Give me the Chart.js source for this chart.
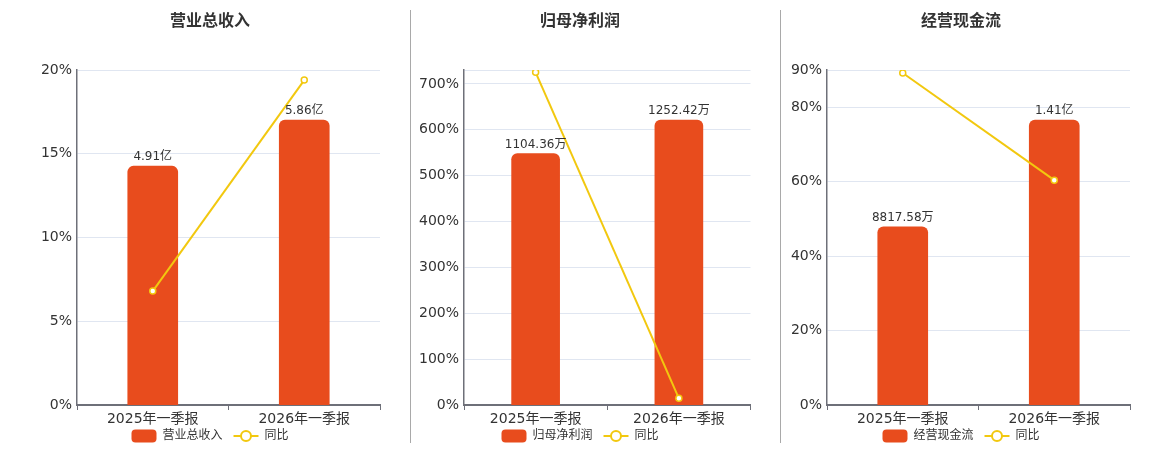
<!DOCTYPE html>
<html>
<head>
<meta charset="utf-8">
<script src="https://cdn.jsdelivr.net/npm/chart.js@4.4.0/dist/chart.umd.min.js"></script>
<style>
  html, body { margin: 0; padding: 0; background: #fff; }
  body { width: 1160px; height: 450px; position: relative; overflow: hidden; }
  .panel { position: absolute; top: 0; height: 450px; }
  .sep { position: absolute; top: 10px; width: 1px; height: 433px; background: #a9a9a9; }
</style>
</head>
<body>
<div class="panel" style="left:20px;width:380px"><canvas id="c1"></canvas></div>
<div class="sep" style="left:410px"></div>
<div class="panel" style="left:410px;width:346px"><canvas id="c2"></canvas></div>
<div class="sep" style="left:780px"></div>
<div class="panel" style="left:780px;width:362px"><canvas id="c3"></canvas></div>
<script>
var FONT = '"DejaVu Sans", "Noto Sans CJK SC", sans-serif';
var BAR_COLOR = '#e84c1d';
var LINE_COLOR = '#f2c80f';

var periods = ['2025年一季报', '2026年一季报'];

// 营业总收入 (亿)
var revenue = [4.91, 5.86];
var revenueLabels = ['4.91亿', '5.86亿'];
var revenueYoy = [6.8, 19.4];

// 归母净利润 (万)
var profit = [1104.36, 1252.42];
var profitLabels = ['1104.36万', '1252.42万'];
var profitYoy = [725.5, 14.6];

// 经营现金流 (万)
var cashflow = [8817.58, 14100];
var cashflowLabels = ['8817.58万', '1.41亿'];
var cashflowYoy = [89.2, 60.4];

var revenueTicks = [0, 5, 10, 15, 20];
var profitTicks = [0, 100, 200, 300, 400, 500, 600, 700, 730.5];
var cashflowTicks = [0, 20, 40, 60, 80, 90];

// draws value labels, title and legend
var extras = {
  id: 'extras',
  afterDatasetsDraw: function (chart, args, opts) {
    var ctx = chart.ctx;
    ctx.save();
    var meta = chart.getDatasetMeta(0);
    ctx.font = '12px ' + FONT;
    ctx.fillStyle = '#333';
    ctx.textAlign = 'center';
    ctx.textBaseline = 'bottom';
    meta.data.forEach(function (el, i) {
      ctx.fillText(opts.valueLabels[i], el.x, el.y - 3);
    });
    ctx.restore();
  },
  afterDraw: function (chart, args, opts) {
    var ctx = chart.ctx;
    var cx = opts.centerX;
    ctx.save();
    // title
    ctx.font = 'bold 16px ' + FONT;
    ctx.fillStyle = '#333';
    ctx.textAlign = 'center';
    ctx.textBaseline = 'middle';
    ctx.fillText(opts.title, cx, 22);
    // legend
    ctx.font = '12px ' + FONT;
    ctx.textAlign = 'left';
    var t1 = ctx.measureText(opts.title).width;
    var t2 = ctx.measureText('同比').width;
    var total = 25 + 6 + t1 + 11 + 25 + 6 + t2;
    var x = cx - total / 2;
    var y = 436;
    ctx.fillStyle = BAR_COLOR;
    ctx.beginPath();
    ctx.roundRect(x, y - 6.5, 25, 13, 4);
    ctx.fill();
    x += 31;
    ctx.fillStyle = '#333';
    ctx.fillText(opts.title, x, y);
    x += t1 + 11;
    ctx.strokeStyle = LINE_COLOR;
    ctx.lineWidth = 2;
    ctx.beginPath();
    ctx.moveTo(x, y);
    ctx.lineTo(x + 25, y);
    ctx.stroke();
    ctx.beginPath();
    ctx.arc(x + 12.5, y, 5, 0, Math.PI * 2);
    ctx.fillStyle = '#fff';
    ctx.fill();
    ctx.stroke();
    x += 31;
    ctx.fillStyle = '#333';
    ctx.fillText('同比', x, y);
    ctx.restore();
  }
};

function makeChart(id, title, values, labels, yoy, ticks, yMax, leftWidth, rightPad, barWidth, centerX) {
  return new Chart(document.getElementById(id), {
    type: 'bar',
    data: {
      labels: periods,
      datasets: [{
        type: 'bar',
        data: values,
        yAxisID: 'y2',
        backgroundColor: BAR_COLOR,
        borderRadius: { topLeft: 6, topRight: 6 },
        borderSkipped: 'bottom',
        barThickness: barWidth,
        order: 2
      }, {
        type: 'line',
        data: yoy,
        yAxisID: 'y',
        borderColor: LINE_COLOR,
        borderWidth: 2,
        pointRadius: 3,
        pointBorderWidth: 1.5,
        pointBackgroundColor: '#fff',
        pointBorderColor: LINE_COLOR,
        order: 1
      }]
    },
    options: {
      responsive: false,
      animation: false,
      devicePixelRatio: 1,
      layout: { padding: { top: 70, bottom: 0, left: 0, right: rightPad } },
      plugins: {
        legend: { display: false },
        tooltip: { enabled: false },
        extras: { title: title, valueLabels: labels, centerX: centerX }
      },
      scales: {
        x: {
          offset: true,
          grid: { display: true, offset: true, drawOnChartArea: false, drawTicks: true, tickLength: 5, color: '#6e7079', lineWidth: 1 },
          border: { display: true, color: '#6e7079', width: 2 },
          ticks: { color: '#333', font: { family: FONT, size: 14 }, padding: 1, maxRotation: 0 },
          afterFit: function (s) { s.height = 45; }
        },
        y: {
          position: 'left',
          min: 0,
          max: yMax,
          afterBuildTicks: function (s) { s.ticks = ticks.map(function (v) { return { value: v }; }); },
          grid: { color: '#e0e6f1', lineWidth: 1, drawTicks: false },
          border: { display: true, color: '#6e7079', width: 1.5 },
          ticks: {
            color: '#333',
            font: { family: FONT, size: 14 },
            padding: 5,
            callback: function (v) { return v % 5 === 0 ? v + '%' : ''; }
          },
          afterFit: function (s) { s.width = leftWidth; }
        },
        y2: {
          display: false,
          min: 0,
          max: values[1] * 335 / 285
        }
      }
    },
    plugins: [extras]
  });
}

function sizeCanvas(id, w) {
  var c = document.getElementById(id);
  c.width = w; c.height = 450;
  c.style.width = w + 'px'; c.style.height = '450px';
}
sizeCanvas('c1', 380);
sizeCanvas('c2', 346);
sizeCanvas('c3', 362);

makeChart('c1', '营业总收入', revenue, revenueLabels, revenueYoy, revenueTicks, 20, 57, 20, 50, 190);
makeChart('c2', '归母净利润', profit, profitLabels, profitYoy, profitTicks, 730.5, 54, 1, 48, 170);
makeChart('c3', '经营现金流', cashflow, cashflowLabels, cashflowYoy, cashflowTicks, 90, 47, 12, 50, 181);
</script>
</body>
</html>
